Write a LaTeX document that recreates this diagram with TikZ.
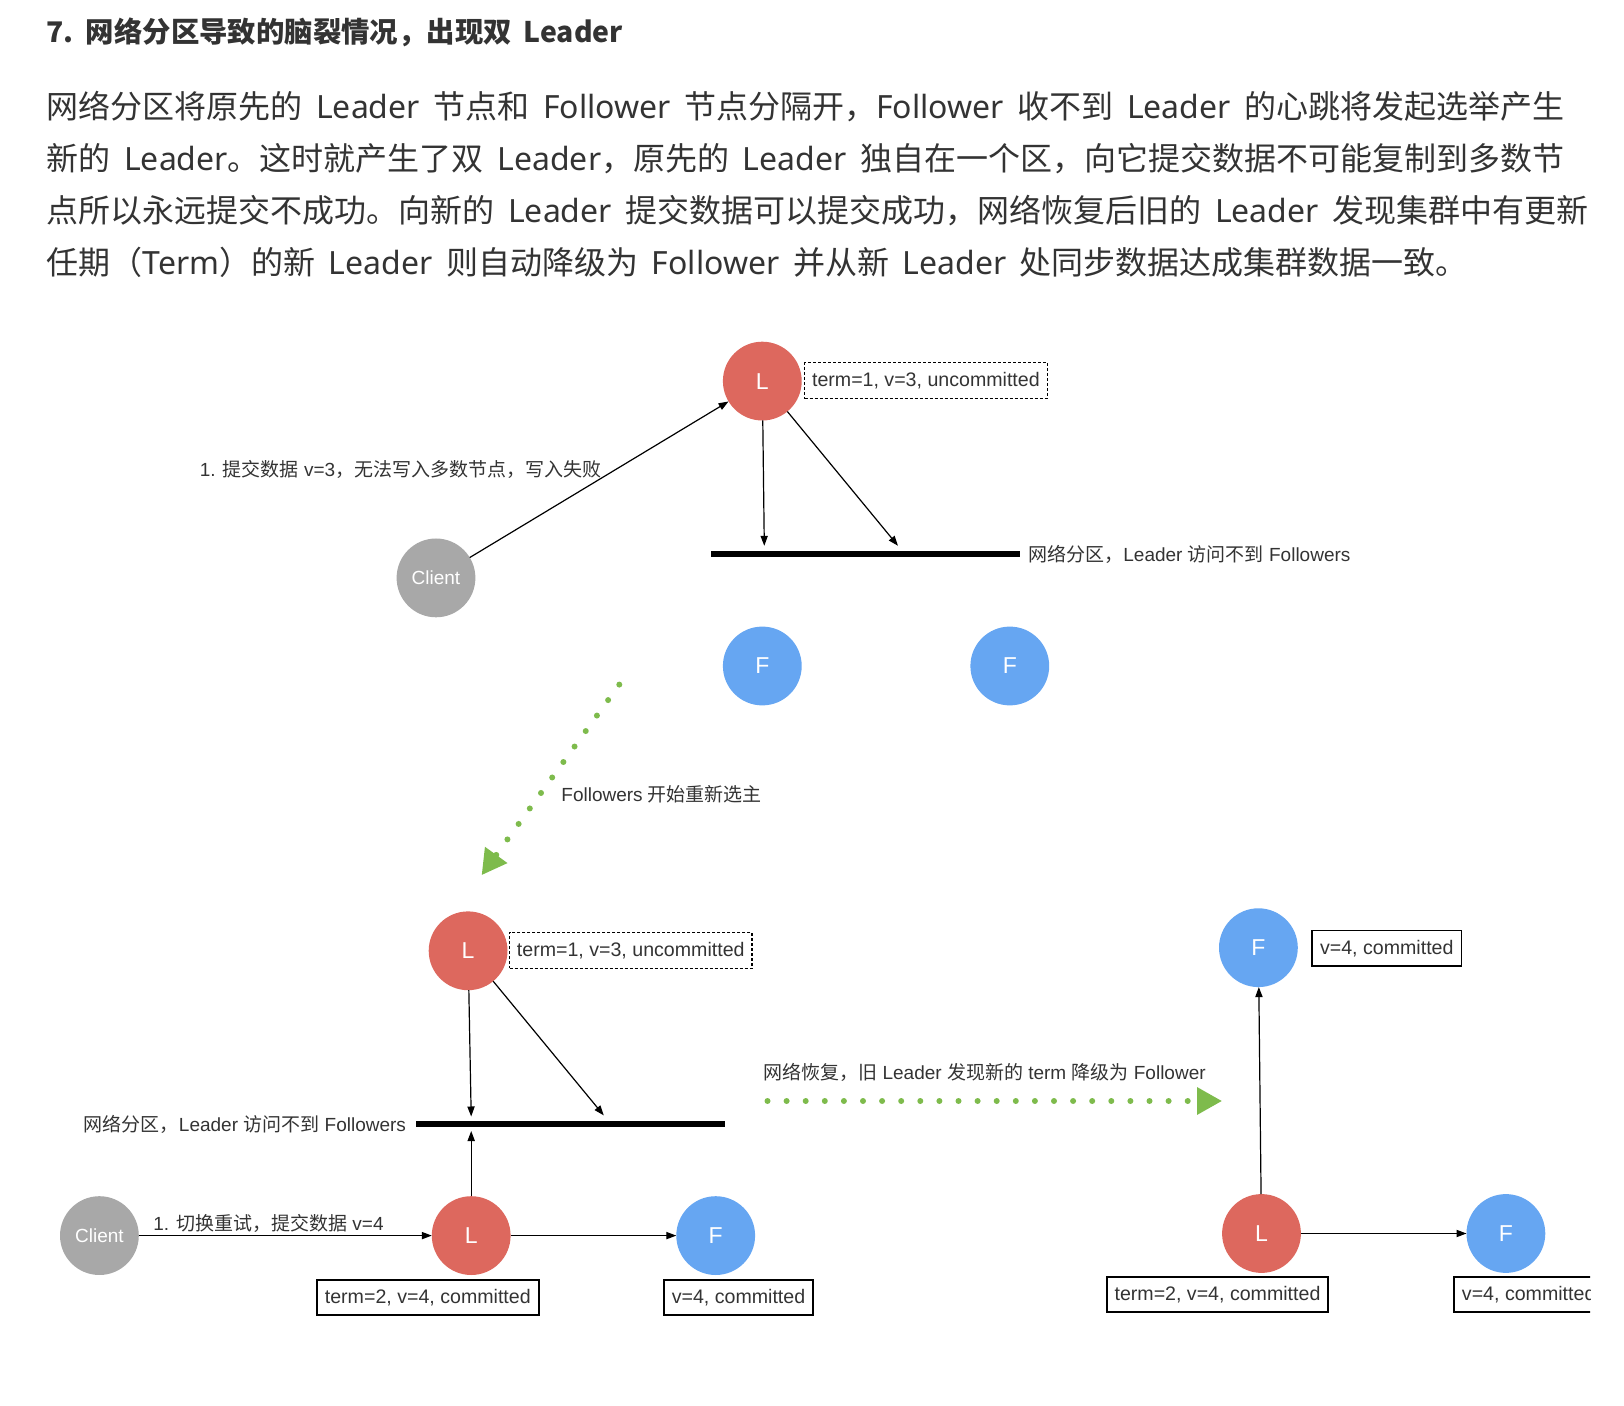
\documentclass[tikz,border=0pt]{standalone}
\usepackage{fontspec}
\setmainfont{Liberation Sans}
\newfontfamily\cjk{Noto Sans CJK SC}
\newfontfamily\plat{Noto Sans}
\newcommand\LL[1]{{\plat #1}}
\newcommand\pspace{\spaceskip 6.8pt\relax\xspaceskip 6.8pt\relax}
\newcommand\tspace{\spaceskip 6pt\relax\xspaceskip 6pt\relax}
\usetikzlibrary{arrows.meta}
\definecolor{lred}{RGB}{221,104,94}
\definecolor{fblue}{RGB}{102,166,242}
\definecolor{cgray}{RGB}{168,168,168}
\definecolor{egreen}{RGB}{126,187,76}
\definecolor{txt}{RGB}{51,51,51}
\begin{document}
\begin{tikzpicture}[x=0.5pt,y=-0.5pt,
  every node/.style={inner sep=0pt, outer sep=0pt},
  circ/.style={circle, minimum size=39.4pt, text=white, font=\fontsize{11.5}{12}\selectfont},
  lnode/.style={circ, fill=lred},
  fnode/.style={circ, fill=fblue},
  cnode/.style={circ, fill=cgray, font=\fontsize{9.5}{10}\selectfont},
  dbox/.style={draw=black, line width=0.6pt, dash pattern=on 1.5pt off 1pt, minimum width=121.2pt, minimum height=18pt, text=txt, font=\fontsize{9.8}{10}\selectfont},
  sbox/.style={draw=black, line width=0.9pt, minimum height=17.6pt, text=txt, font=\fontsize{9.8}{10}\selectfont},
  lbl/.style={text=txt, font=\fontsize{9.5}{10}\selectfont},
  bar/.style={fill=black, minimum height=3.1pt},
  arr/.style={-{Triangle[length=5pt,width=3.6pt]}, line width=0.6pt, black},
  garr/.style={-{Triangle[length=12.5pt,width=13pt]}, egreen, line width=3pt, line cap=round, dash pattern=on 0pt off 9.55pt},
  para/.style={anchor=west, text=txt, font=\cjk\fontsize{16}{18}\selectfont\pspace}
]
\useasboundingbox (0,0) rectangle (1624,1406);

% header text
\node[anchor=west, text=txt, font=\cjk\bfseries\fontsize{14.2}{16}\selectfont\tspace] (title) at (46.6,32) {7. 网络分区导致的脑裂情况，出现双 Leader};
\node[para] (p1) at (46.6,106.7) {网络分区将原先的 \LL{Leader} 节点和 \LL{Follower} 节点分隔开，\LL{Follower} 收不到 \LL{Leader} 的心跳将发起选举产生};
\node[para] (p2) at (46.6,158.5) {新的 \LL{Leader}。这时就产生了双 \LL{Leader}，原先的 \LL{Leader} 独自在一个区，向它提交数据不可能复制到多数节};
\node[para] (p3) at (46.6,210.2) {点所以永远提交不成功。向新的 \LL{Leader} 提交数据可以提交成功，网络恢复后旧的 \LL{Leader} 发现集群中有更新};
\node[para] (p4) at (46.6,262) {任期（\LL{Term}）的新 \LL{Leader} 则自动降级为 \LL{Follower} 并从新 \LL{Leader} 处同步数据达成集群数据一致。};

% ---- top scene ----
\node[lnode] (L1) at (762.3,381.1) {L};
\node[dbox] (L1box) at (925.9,380.6) {term=1, v=3, uncommitted};
\node[cnode] (C1) at (436,577.9) {Client};
\node[lbl, anchor=west] (lab1) at (199.9,469.2) {1. {\cjk 提交数据} v=3{\cjk ，无法写入多数节点，写入失败}};
\node[bar, minimum width=154.85pt] (bar1) at (865.35,554.1) {};
\node[lbl, anchor=west] (bar1lab) at (1028.4,554.1) {{\cjk 网络分区，}Leader {\cjk 访问不到} Followers};
\node[fnode] (F1a) at (762.3,666) {F};
\node[fnode] (F1b) at (1009.8,666) {F};
\coordinate (t1a) at (764.3,545.8);
\coordinate (t1b) at (898,545.8);
\draw[arr] (C1) -- (L1);
\draw[arr] (L1) -- (t1a);
\draw[arr] (L1) -- (t1b);

% transition 1
\coordinate (g1s) at (619.3,684.6);
\coordinate (g1e) at (481.6,875.2);
\draw[garr] (g1s) -- (g1e);
\node[lbl, anchor=west] (glab1) at (561.4,794.4) {Followers {\cjk 开始重新选主}};

% ---- bottom-left scene ----
\node[lnode] (L2) at (468.1,950.8) {L};
\node[dbox] (L2box) at (630.75,950.25) {term=1, v=3, uncommitted};
\node[bar, minimum width=154.3pt] (bar2) at (570.7,1123.7) {};
\node[lbl, anchor=east] (bar2lab) at (406,1124.8) {{\cjk 网络分区，}Leader {\cjk 访问不到} Followers};
\coordinate (t2a) at (471.2,1116.5);
\coordinate (t2b) at (603.8,1115.4);
\draw[arr] (L2) -- (t2a);
\draw[arr] (L2) -- (t2b);
\node[cnode] (C2) at (99.4,1235.6) {Client};
\node[lnode] (L3) at (471.2,1235.6) {L};
\node[fnode] (F3) at (715.7,1235.6) {F};
\coordinate (t3) at (471.2,1131);
\draw[arr] (L3) -- (t3);
\draw[arr] (C2) -- (L3);
\draw[arr] (L3) -- (F3);
\node[lbl, anchor=west] (lab2) at (153.3,1223.2) {1. {\cjk 切换重试，提交数据} v=4};
\node[sbox, minimum width=110.9pt] (L3box) at (427.8,1297.7) {term=2, v=4, committed};
\node[sbox, minimum width=74.6pt] (F3box) at (738.5,1297.7) {v=4, committed};

% transition 2
\coordinate (g2s) at (767.5,1101);
\coordinate (g2e) at (1222.1,1101);
\draw[garr] (g2s) -- (g2e);
\node[lbl, anchor=west] (glab2) at (763.3,1072) {{\cjk 网络恢复，旧} Leader {\cjk 发现新的} term {\cjk 降级为} Follower};

% ---- right scene ----
\node[fnode] (F4) at (1258.4,947.7) {F};
\node[sbox, minimum width=74.6pt] (F4box) at (1386.8,948.2) {v=4, committed};
\node[lnode] (L4) at (1261.5,1233.5) {L};
\node[fnode] (F5) at (1505.9,1233.5) {F};
\draw[arr] (L4) -- (F4);
\draw[arr] (L4) -- (F5);
\node[sbox, minimum width=110.3pt] (L4box) at (1217.5,1294.6) {term=2, v=4, committed};
\begin{scope}
\clip (0,0) rectangle (1590,1406);
\node[sbox, minimum width=74.6pt] (F5box) at (1528.7,1294.6) {v=4, committed};
\end{scope}
\end{tikzpicture}
\end{document}
